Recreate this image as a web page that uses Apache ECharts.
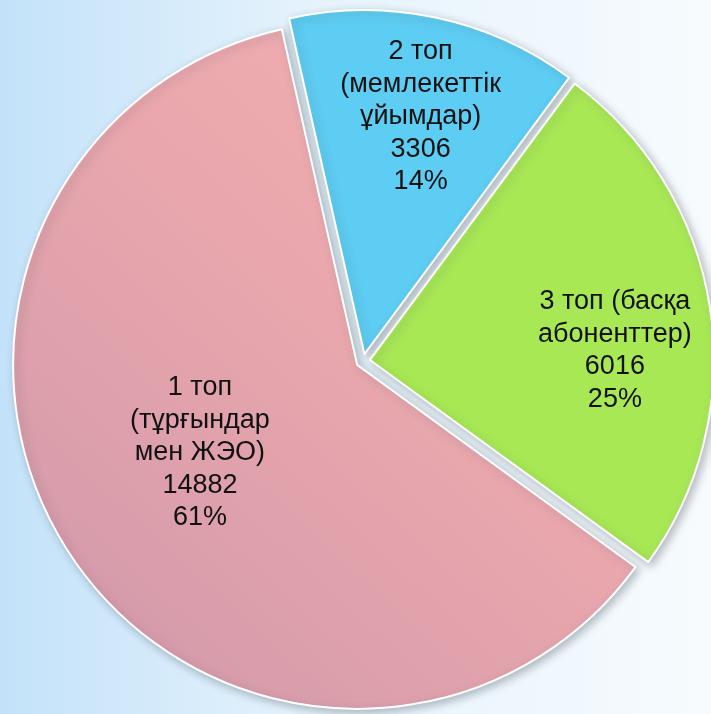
<!DOCTYPE html>
<html>
<head>
<meta charset="utf-8">
<title>Топтар бойынша абоненттер</title>
<script src="https://cdn.jsdelivr.net/npm/echarts@6/dist/echarts.min.js"></script>
<style>
  html, body { margin: 0; padding: 0; }
  #chart { width: 711px; height: 714px; }
</style>
</head>
<body>
<div id="chart"></div>
<script>
// data
var groupNames = [
  '1 топ\n(тұрғындар\nмен ЖЭО)',
  '2 топ\n(мемлекеттік\nұйымдар)',
  '3 топ (басқа\nабоненттер)'
]
var groupValues = [14882, 3306, 6016]

// slice colours (pink has a soft shading towards bottom-left)
var sliceColors = [
  new echarts.graphic.LinearGradient(0, 1, 1, 0, [
    { offset: 0, color: '#cf97aa' },
    { offset: 0.55, color: '#e9a7ad' },
    { offset: 1, color: '#f4b1b3' }
  ]),
  '#5ecdf3',
  '#a8e855'
]

// nudge labels to where they sit in the original
var labelNudge = [[-11, -8], [20, -66], [72, 17]]

var chart = echarts.init(document.getElementById('chart'))

chart.setOption({
  animation: false,
  backgroundColor: new echarts.graphic.LinearGradient(0, 0, 1, 0, [
    { offset: 0, color: '#c3e2f9' },
    { offset: 0.45, color: '#e6f3fc' },
    { offset: 1, color: '#f7fbfe' }
  ]),
  series: [{
    type: 'pie',
    center: [363, 361],
    radius: 344,
    startAngle: 324,
    clockwise: true,
    selectedMode: 'multiple',
    selectedOffset: 7,
    percentPrecision: 0,
    emphasis: { disabled: true },
    itemStyle: {
      borderColor: '#ffffff',
      borderWidth: 2,
      shadowColor: 'rgba(60, 70, 80, 0.35)',
      shadowBlur: 8,
      shadowOffsetX: 3,
      shadowOffsetY: 3
    },
    label: {
      show: true,
      position: 'inside',
      formatter: '{b}\n{c}\n{d}%',
      color: '#111111',
      fontFamily: 'Liberation Sans, Arial, sans-serif',
      fontSize: 27,
      lineHeight: 32.5,
      align: 'center'
    },
    labelLine: { show: false },
    labelLayout: function (params) {
      var n = labelNudge[params.dataIndex]
      return { dx: n[0], dy: n[1] }
    },
    data: groupNames.map(function (name, i) {
      return {
        name: name,
        value: groupValues[i],
        selected: true,
        itemStyle: { color: sliceColors[i] }
      }
    })
  }]
})
</script>
</body>
</html>
